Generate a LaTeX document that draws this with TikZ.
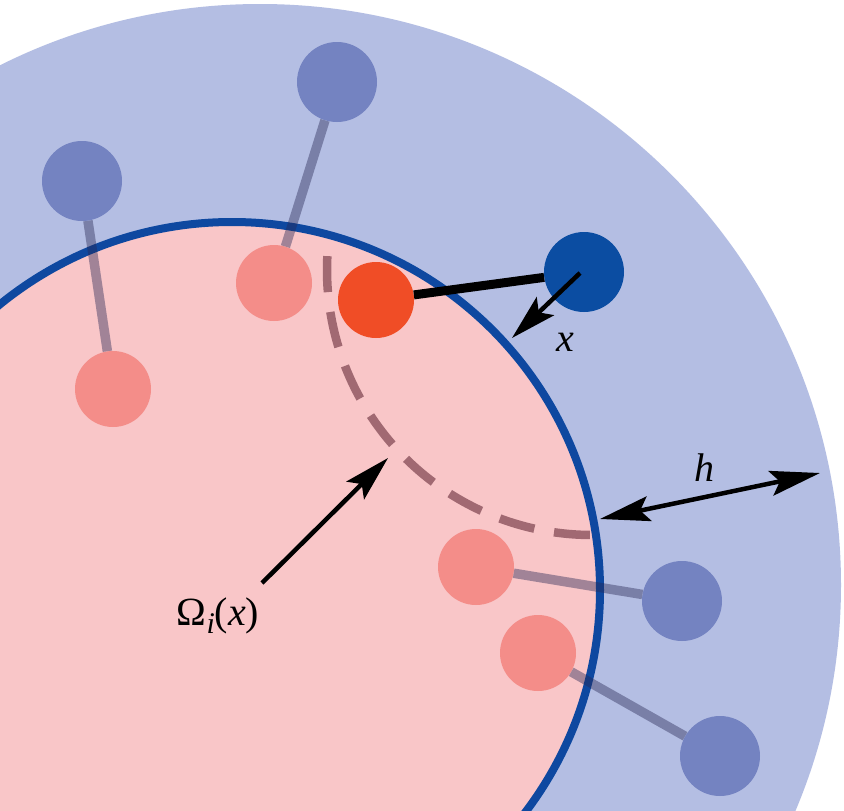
\documentclass[tikz,border=0pt]{standalone}
\usepackage{fontspec}
\setmainfont{Liberation Serif}
\usetikzlibrary{arrows.meta}
\definecolor{outerblue}{RGB}{180,190,227}
\definecolor{innerpink}{RGB}{249,198,200}
\definecolor{rimblue}{RGB}{14,72,160}
\definecolor{fadeblue}{RGB}{116,131,193}
\definecolor{fadepink}{RGB}{244,141,137}
\definecolor{hotred}{RGB}{240,77,38}
\definecolor{deepblue}{RGB}{11,77,162}
\definecolor{linkgray}{RGB}{40,40,85}
\definecolor{dashmauve}{RGB}{90,30,45}
\begin{document}
\begin{tikzpicture}[x=1pt,y=-1pt,
  particle/.style={circle,inner sep=0pt,minimum size=#1},
  bluepart/.style={particle=80pt,fill=fadeblue},
  pinkpart/.style={particle=76pt,fill=fadepink},
  link/.style={draw=linkgray,draw opacity=0.42,line width=9.5pt},
  bond/.style={draw=black,line width=9pt},
  dashline/.style={draw=dashmauve,draw opacity=0.55,line width=8.5pt,dash pattern=on 36pt off 20pt},
  arr/.style={line width=4.5pt,-{Stealth[length=46pt,width=25pt,inset=9pt]}},
  darr/.style={line width=4.5pt,{Stealth[length=50pt,width=25pt,inset=9pt]}-{Stealth[length=50pt,width=25pt,inset=9pt]}},
  lab/.style={font=\fontsize{40}{42}\selectfont,inner sep=0pt}
]
\useasboundingbox (0,0) rectangle (844,811);
\fill[white] (0,0) rectangle (844,811);
\begin{scope}
  \clip (0,0) rectangle (844,811);
  \fill[outerblue] (260,585) circle[radius=581pt];
  \fill[innerpink] (232,590) circle[radius=368pt];
  \draw[rimblue,line width=8pt] (232,590) circle[radius=368pt];
\end{scope}

% particles
\node[bluepart] (bA) at (337,82) {};
\node[pinkpart] (pA) at (274,283) {};
\node[bluepart] (bB) at (82,181) {};
\node[pinkpart] (pB) at (113,389) {};
\node[pinkpart] (pC) at (476,567) {};
\node[bluepart] (bC) at (682,601) {};
\node[pinkpart] (pD) at (538,653) {};
\node[bluepart] (bD) at (720,756) {};
\node[particle=76pt,fill=hotred] (red) at (376,300) {};
\node[particle=80pt,fill=deepblue] (db) at (584,272) {};

% links
\draw[link] (bA) -- (pA);
\draw[link] (bB) -- (pB);
\draw[link] (pC) -- (bC);
\draw[link] (pD) -- (bD);
\draw[bond] (red) -- (db);

% dashed arc
\coordinate (arcc) at (592,270);
\draw[dashline] (arcc) ++(177:265pt) arc[start angle=177,end angle=270,radius=265pt];

% arrows
\coordinate (xs) at (580,273);
\coordinate (xt) at (512,338);
\coordinate (os) at (262,583);
\coordinate (ot) at (388,458);
\coordinate (hs) at (600,519);
\coordinate (ht) at (820,473);
\draw[arr] (xs) -- (xt);
\draw[arr] (os) -- (ot);
\draw[darr] (hs) -- (ht);

% labels
\node[lab] (xl) at (565,342) {\itshape x};
\node[lab] (hl) at (704,468) {\itshape h};
\node[lab,anchor=base] (oml) at (218,625) {Ω\raisebox{-0.22em}{\fontsize{30}{30}\selectfont\itshape i}(\textit{x})};
\end{tikzpicture}
\end{document}
